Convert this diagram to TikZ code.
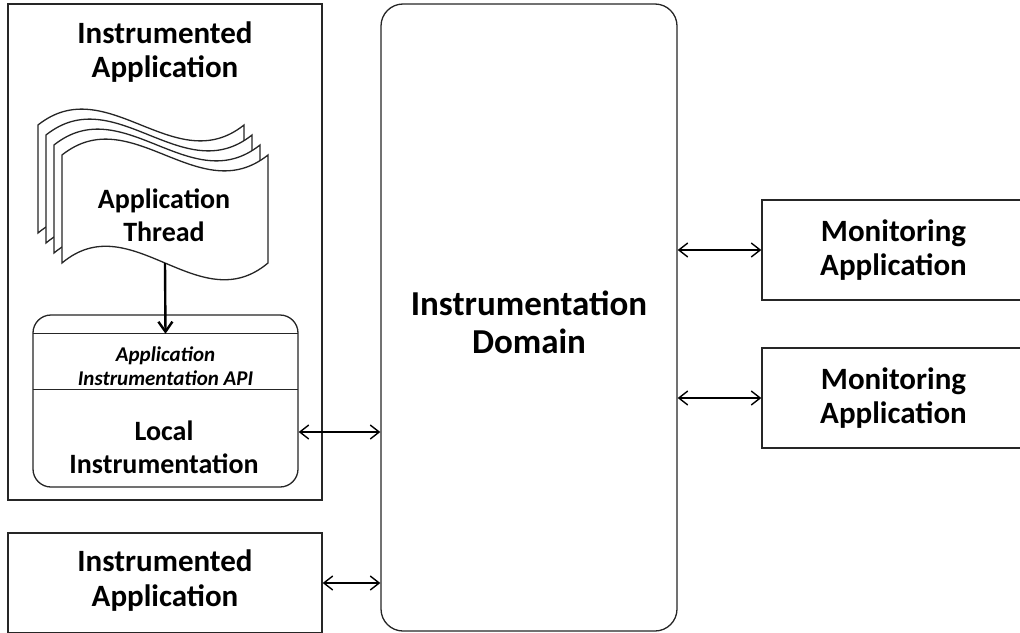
\documentclass[tikz,border=0pt]{standalone}
\usepackage{fontspec}
\setmainfont{Carlito}
\usetikzlibrary{arrows.meta}
\newcommand\flagshape[2]{%
  \draw[flagline] (#1,#2) .. controls +(69,-55) and +(-69,55) .. ++(206,0)
    -- ++(0,108) .. controls +(-69,58) and +(69,-58) .. ++(-206,0) -- cycle;}
\begin{document}
\begin{tikzpicture}[x=1pt,y=-1pt,
  box/.style={draw=black!85, line width=1.3pt, fill=white, inner sep=0pt},
  flagline/.style={draw=black!85, line width=1.3pt, fill=white},
  lbl/.style={font=\bfseries\fontsize{31}{34}\selectfont, align=center, inner sep=0pt},
  smlbl/.style={font=\bfseries\fontsize{28}{33}\selectfont, align=center, inner sep=0pt},
  biglbl/.style={font=\bfseries\fontsize{35}{38}\selectfont, align=center, inner sep=0pt},
  apilbl/.style={font=\bfseries\itshape\fontsize{21}{24}\selectfont, align=center, inner sep=0pt},
  sepline/.style={draw=black!85, line width=1.3pt},
  biarrow/.style={{Straight Barb[length=9pt,width=14pt]}-{Straight Barb[length=9pt,width=14pt]}, line width=1.4pt},
  downarrow/.style={-{Straight Barb[length=10pt,width=14pt]}, line width=2.4pt}]
\useasboundingbox (0,0) rectangle (1020,632);
\clip (0,0) rectangle (1020,632);
% outer instrumented application
\node[box, minimum width=314pt, minimum height=496pt] (app1) at (165,252) {};
\node[lbl, font=\bfseries\fontsize{31}{34}\selectfont] (app1t) at (165,52) {Instrumented\\Application};
% thread flags
\foreach \i in {3,2,1,0} {\flagshape{62-8*\i}{155-10*\i}}
\node[minimum width=206pt, minimum height=108pt, inner sep=0pt] (thread) at (165,209) {};
\node[smlbl] (threadt) at (164,215.5) {Application\\Thread};
% local instrumentation
\node[box, rounded corners=18pt, minimum width=265pt, minimum height=172pt] (local) at (165.5,401) {};
\node[minimum width=265pt, minimum height=55pt, inner sep=0pt] (api) at (165.5,361.5) {};
\node[apilbl] (apit) at (165.5,366) {Application\\Instrumentation API};
\draw[sepline] (api.north west) -- (api.north east) (api.south west) -- (api.south east);
\node[smlbl] (localt) at (164,447) {Local\\Instrumentation};
% second instrumented application
\node[box, minimum width=314pt, minimum height=100pt] (app2) at (165,583) {};
\node[lbl, font=\bfseries\fontsize{31}{35}\selectfont] (app2t) at (165,581) {Instrumented\\Application};
% domain
\node[box, rounded corners=22pt, minimum width=296pt, minimum height=627pt] (dom) at (529,317.5) {};
\node[biglbl] (domt) at (529,322) {Instrumentation\\Domain};
% monitoring
\node[box, minimum width=263pt, minimum height=100pt] (mon1) at (893.5,250) {};
\node[lbl, font=\bfseries\fontsize{31}{34}\selectfont] (mon1t) at (893.5,250) {Monitoring\\Application};
\node[box, minimum width=263pt, minimum height=100pt] (mon2) at (893.5,398) {};
\node[lbl, font=\bfseries\fontsize{31}{34}\selectfont] (mon2t) at (893.5,398) {Monitoring\\Application};
% arrows
\draw[downarrow] (thread.south) -- (api.north);
\path (local.east) ++(0,31) coordinate (la);
\draw[biarrow] (la) -- (la -| dom.west);
\draw[biarrow] (app2.east) -- (app2.east -| dom.west);
\draw[biarrow] (dom.east |- mon1.west) -- (mon1.west);
\draw[biarrow] (dom.east |- mon2.west) -- (mon2.west);
\end{tikzpicture}
\end{document}
